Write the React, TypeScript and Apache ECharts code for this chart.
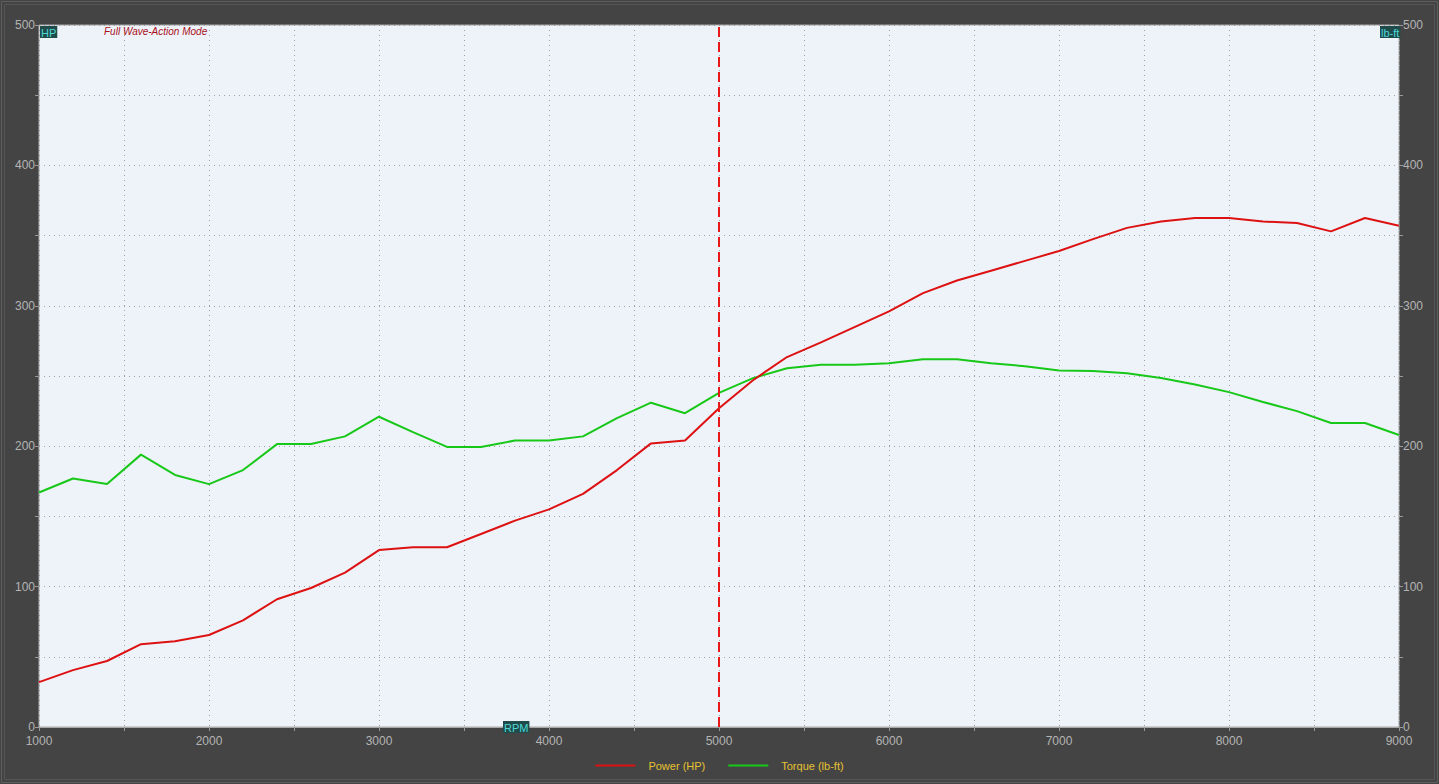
import React, { useEffect, useRef } from "react";
import * as echarts from "echarts";

const rpm = [1000,1200,1400,1600,1800,2000,2200,2400,2600,2800,3000,3200,3400,3600,3800,4000,4200,4400,4600,4800,5000,5200,5400,5600,5800,6000,6200,6400,6600,6800,7000,7200,7400,7600,7800,8000,8200,8400,8600,8800,9000];
const powerHP = [32,40.5,47,59,61,65.5,76,91,99,110,126,128,128,137.5,147,155,166,183,202,204,227,247,263.5,274,285,296,309,318,325,332,339,347.5,355.5,360,362.5,362.5,360,359,353,362.5,357];
const torqueLbFt = [167,177,173,194,179.5,173,183,201.5,201.5,207,221,210,199.5,199.5,204,204,207,220,231,223.5,238,248.5,255.5,258,258,259,262,262,259,257,254,253.5,252,248.5,244,238.5,231.5,225,216.5,216.5,208];
const markerRpm = 5000;
const seriesNames = ["Power (HP)", "Torque (lb-ft)"];
const modeTitle = "Full Wave-Action Mode";

export default function App() {
  const ref = useRef<HTMLDivElement>(null);
  useEffect(() => {
    if (!ref.current) return;
    const chart = echarts.init(ref.current, null, { renderer: "svg" });
    const font = "Liberation Sans";
    const labelColor = "#b4b4b4";
    const yAxisCommon = {
      type: "value" as const,
      min: 0,
      max: 500,
      interval: 50,
      axisLine: { show: false },
      axisTick: { show: true, length: 4, lineStyle: { color: "#9a9a9a" } },
      axisLabel: {
        color: labelColor,
        fontFamily: font,
        fontSize: 12,
        margin: 4,
        formatter: (v: number) => (v % 100 === 0 ? String(v) : ""),
      },
      splitLine: { show: true, lineStyle: { color: "#9aa0a8", type: [1, 4] as any, width: 1 } },
    };
    chart.setOption({
      animation: false,
      backgroundColor: "#444444",
      grid: {
        left: 39,
        right: 40,
        top: 25,
        bottom: 57,
        show: true,
        backgroundColor: "#eef3fa",
        borderColor: "#a8a8a8",
        borderWidth: 1,
      },
      xAxis: {
        type: "value",
        min: 1000,
        max: 9000,
        interval: 500,
        axisLine: { show: true, lineStyle: { color: "#a8a8a8" } },
        axisTick: { show: true, length: 4, lineStyle: { color: "#9a9a9a" } },
        axisLabel: {
          color: labelColor,
          fontFamily: font,
          fontSize: 12,
          margin: 8,
          formatter: (v: number) => (v % 1000 === 0 ? String(v) : ""),
        },
        splitLine: { show: true, lineStyle: { color: "#9aa0a8", type: [1, 4] as any, width: 1 } },
      },
      yAxis: [
        { ...yAxisCommon, position: "left" },
        { ...yAxisCommon, position: "right", splitLine: { show: false } },
      ],
      legend: {
        bottom: 8,
        left: "center",
        itemWidth: 40,
        itemHeight: 2,
        itemGap: 23,
        icon: "rect",
        textStyle: { color: "#e6c232", fontFamily: font, fontSize: 11, padding: [0, 0, 0, 8] },
        data: seriesNames,
      },
      series: [
        {
          name: seriesNames[0],
          type: "line",
          yAxisIndex: 0,
          data: rpm.map((r, i) => [r, powerHP[i]]),
          showSymbol: false,
          symbol: "none",
          color: "#dd1111",
          lineStyle: { color: "#dd1111", width: 2 },
          markLine: {
            silent: true,
            symbol: "none",
            label: { show: false },
            lineStyle: { color: "#e81818", type: [10, 5] as any, width: 2 },
            data: [{ xAxis: markerRpm }],
          },
          z: 3,
        },
        {
          name: seriesNames[1],
          type: "line",
          yAxisIndex: 1,
          data: rpm.map((r, i) => [r, torqueLbFt[i]]),
          showSymbol: false,
          symbol: "none",
          color: "#18c818",
          lineStyle: { color: "#18c818", width: 2 },
          z: 2,
        },
      ],
      graphic: [
        { type: "rect", shape: { x: 1.5, y: 1.5, width: 1436, height: 781 }, style: { fill: "none", stroke: "#5e5e5e", lineWidth: 1 }, silent: true },
        { type: "rect", shape: { x: 4.5, y: 4.5, width: 1430, height: 775 }, style: { fill: "none", stroke: "#555555", lineWidth: 1 }, silent: true },
        {
          type: "text",
          x: 40,
          y: 26,
          style: { text: "HP", fill: "#4fd8d8", font: "11px Liberation Sans", backgroundColor: "#1f4b4b", padding: [1, 1, 0, 1] },
          z: 10,
        },
        {
          type: "text",
          x: 1380,
          y: 26,
          style: { text: "lb-ft", fill: "#4fd8d8", font: "11px Liberation Sans", backgroundColor: "#1f4b4b", padding: [1, 1, 0, 1] },
          z: 10,
        },
        {
          type: "text",
          x: 503,
          y: 721,
          style: { text: "RPM", fill: "#4fd8d8", font: "11px Liberation Sans", backgroundColor: "#1f4b4b", padding: [1, 1, 0, 1] },
          z: 10,
        },
        {
          type: "text",
          x: 104,
          y: 26,
          style: { text: modeTitle, fill: "#a81020", font: "italic 10px Liberation Sans" },
          z: 10,
        },
      ],
    });
    return () => chart.dispose();
  }, []);
  return (
    <div
      ref={ref}
      style={{ position: "fixed", left: 0, top: 0, width: 1439, height: 784 }}
    />
  );
}
